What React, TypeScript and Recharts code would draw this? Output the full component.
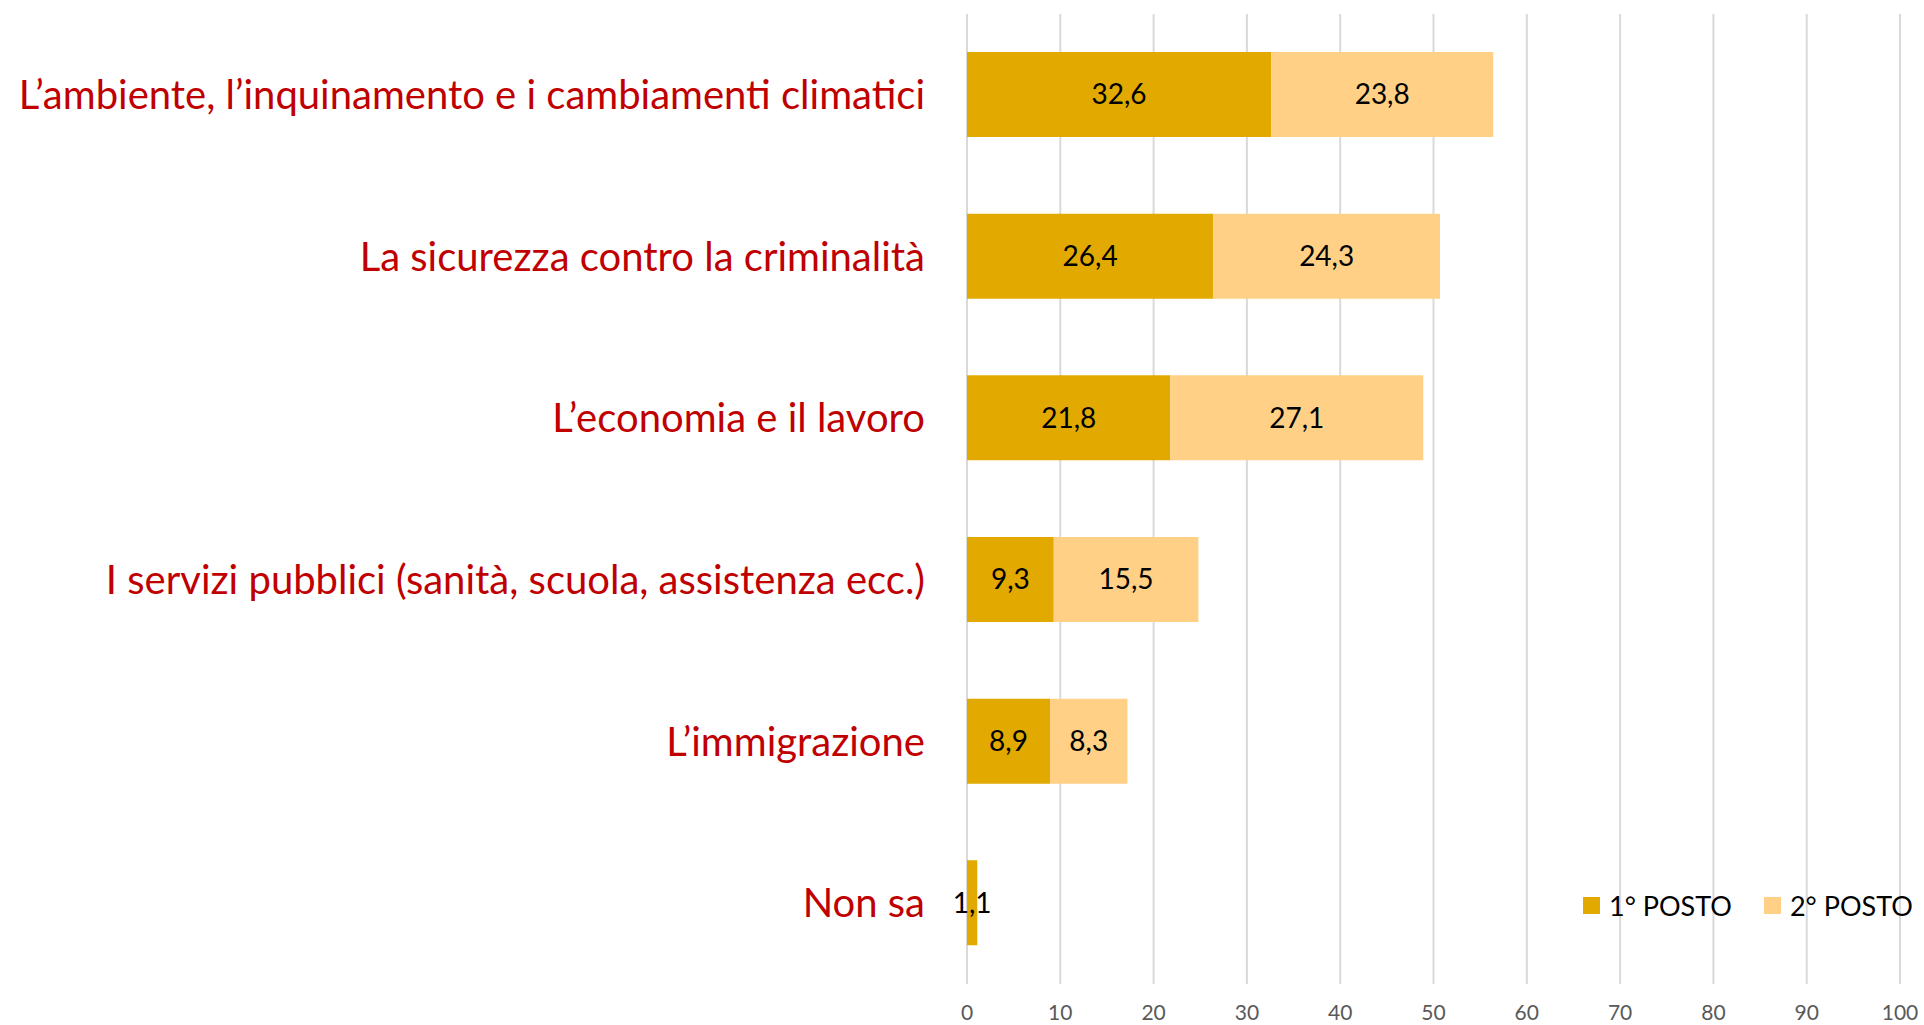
import React from 'react';
import { BarChart, Bar, XAxis, YAxis, CartesianGrid, LabelList, Legend } from 'recharts';

const categories = [
  'L’ambiente, l’inquinamento e i cambiamenti climatici',
  'La sicurezza contro la criminalità',
  'L’economia e il lavoro',
  'I servizi pubblici (sanità, scuola, assistenza ecc.)',
  'L’immigrazione',
  'Non sa',
];
const primoPosto = [32.6, 26.4, 21.8, 9.3, 8.9, 1.1];
const secondoPosto: (number | null)[] = [23.8, 24.3, 27.1, 15.5, 8.3, null];
const xTicks = [0, 10, 20, 30, 40, 50, 60, 70, 80, 90, 100];
const seriesNames = ['1° POSTO', '2° POSTO'];
const colors = ['#E2AA00', '#FFD086'];

const data = categories.map((name, i) => ({ name, p1: primoPosto[i], p2: secondoPosto[i] }));

const FONT = 'Lato, "Noto Sans", sans-serif';

const fmt = (v: any) => (v === null || v === undefined ? '' : String(v).replace('.', ','));

const LegendContent = () => (
  <div style={{ display: 'flex', alignItems: 'center', fontFamily: FONT, fontSize: 27, color: '#000' }}>
    {seriesNames.map((n, i) => (
      <div key={n} style={{ display: 'flex', alignItems: 'center', marginRight: i === 0 ? 32 : 0 }}>
        <div style={{ width: 17, height: 17, background: colors[i], marginRight: 9 }} />
        <span>{n}</span>
      </div>
    ))}
  </div>
);

export default function App() {
  return (
    <div style={{ position: 'absolute', left: 0, top: 0, width: 1924, height: 1025, background: '#fff' }}>
      <BarChart
        width={1924}
        height={1025}
        data={data}
        layout="vertical"
        margin={{ top: 14, right: 24, bottom: 0, left: 0 }}
      >
        <CartesianGrid horizontal={false} vertical={true} stroke="#D9D9D9" strokeWidth={2} />
        <XAxis
          type="number"
          domain={[0, 100]}
          ticks={xTicks}
          axisLine={false}
          tickLine={false}
          height={41}
          tickMargin={15}
          tick={{ fill: '#595959', fontSize: 21, fontFamily: FONT }}
          interval={0}
        />
        <YAxis
          type="category"
          dataKey="name"
          width={967}
          axisLine={false}
          tickLine={false}
          tickMargin={36}
          interval={0}
          tick={{ fill: '#C00000', fontSize: 40, fontFamily: FONT }}
        />
        <Legend
          layout="horizontal"
          verticalAlign="middle"
          align="center"
          content={<LegendContent />}
          wrapperStyle={{ position: 'absolute', left: 1583, top: 889, width: 340 }}
        />
        <Bar dataKey="p1" name={seriesNames[0]} stackId="a" fill={colors[0]} barSize={85} isAnimationActive={false}>
          <LabelList dataKey="p1" position="center" formatter={fmt} style={{ fill: '#000', fontSize: 28, fontFamily: FONT }} />
        </Bar>
        <Bar dataKey="p2" name={seriesNames[1]} stackId="a" fill={colors[1]} barSize={85} isAnimationActive={false}>
          <LabelList dataKey="p2" position="center" formatter={fmt} style={{ fill: '#000', fontSize: 28, fontFamily: FONT }} />
        </Bar>
      </BarChart>
    </div>
  );
}
